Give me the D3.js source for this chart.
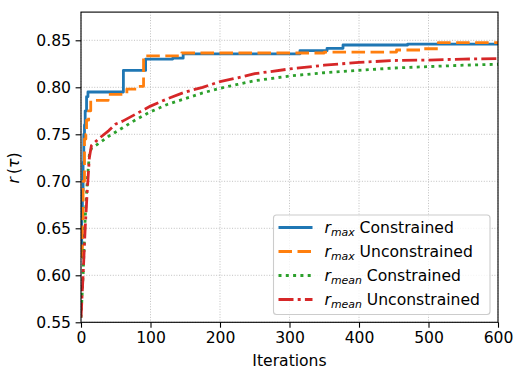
<!DOCTYPE html>
<html>
<head>
<meta charset="utf-8">
<script src="https://cdn.jsdelivr.net/npm/d3@7"></script>
<style>
  body { margin: 0; background: #fff; }
  text { font-family: "DejaVu Sans", sans-serif; }
</style>
</head>
<body>
<svg id="chart" width="515" height="369"></svg>
<script>
// Axis ticks
const xTicks = [0, 100, 200, 300, 400, 500, 600];
const yTicks = [0.55, 0.60, 0.65, 0.70, 0.75, 0.80, 0.85];

// r_max, constrained run (best value so far, changes only at these iterations)
const maxConIter = [0, 1, 2, 3, 4, 5, 6, 8, 10, 61, 93, 132, 147, 315, 354, 377, 470, 600];
const maxConR    = [0.630, 0.660, 0.690, 0.720, 0.750, 0.760, 0.775, 0.790, 0.795, 0.818, 0.830, 0.831, 0.8355, 0.839, 0.8415, 0.845, 0.846, 0.846];

// r_max, unconstrained run
const maxUncIter = [0, 2, 3, 5, 7, 8, 11, 14, 39, 66, 82, 90, 145, 350, 454, 488, 514, 600];
const maxUncR    = [0.620, 0.660, 0.700, 0.745, 0.750, 0.765, 0.775, 0.786, 0.7925, 0.798, 0.801, 0.8335, 0.8365, 0.8375, 0.8397, 0.841, 0.8475, 0.8475];

// r_mean, constrained run
const meanConIter = [0, 3, 6, 9, 12, 15, 25, 40, 60, 80, 100, 125, 150, 175, 200, 225, 250, 300, 350, 400, 450, 500, 550, 600];
const meanConR    = [0.555, 0.600, 0.660, 0.700, 0.728, 0.735, 0.740, 0.748, 0.757, 0.766, 0.774, 0.782, 0.788, 0.794, 0.799, 0.803, 0.807, 0.812, 0.8155, 0.818, 0.8205, 0.822, 0.8235, 0.8245];

// r_mean, unconstrained run
const meanUncIter = [0, 3, 6, 9, 12, 15, 25, 40, 50, 60, 80, 100, 125, 150, 175, 200, 225, 250, 300, 350, 400, 450, 500, 550, 600];
const meanUncR    = [0.555, 0.600, 0.650, 0.690, 0.725, 0.738, 0.745, 0.754, 0.761, 0.764, 0.772, 0.780, 0.788, 0.795, 0.800, 0.806, 0.810, 0.8145, 0.8195, 0.8235, 0.8265, 0.8285, 0.829, 0.830, 0.8305];

const series = [
  { sub: "max",  name: "Constrained",   iter: maxConIter,  r: maxConR,  color: "#1f77b4", dash: null,           curve: d3.curveStepAfter },
  { sub: "max",  name: "Unconstrained", iter: maxUncIter,  r: maxUncR,  color: "#ff7f0e", dash: "13.5,5.5",     curve: d3.curveStepAfter },
  { sub: "mean", name: "Constrained",   iter: meanConIter, r: meanConR, color: "#2ca02c", dash: "3,4.3",        curve: d3.curveLinear },
  { sub: "mean", name: "Unconstrained", iter: meanUncIter, r: meanUncR, color: "#d62728", dash: "15,4.2,3,4.2", curve: d3.curveLinear }
];

const FONT = "15.6px";
const svg = d3.select("#chart");
const plotL = 81, plotR = 498, plotT = 12.1, plotB = 322.3;

const x = d3.scaleLinear().domain([0, 600]).range([plotL, plotR]);
const y = d3.scaleLinear().domain([0.55, 0.88]).range([plotB, plotT]);

svg.append("defs").append("clipPath").attr("id", "plot-clip")
  .append("rect").attr("x", plotL).attr("y", plotT).attr("width", plotR - plotL).attr("height", plotB - plotT);

// grid
const grid = svg.append("g").attr("stroke", "#b0b0b0").attr("stroke-width", 0.8).attr("stroke-dasharray", "1,1.65");
grid.selectAll(".gx").data(xTicks).join("line")
  .attr("x1", d => x(d)).attr("x2", d => x(d)).attr("y1", plotT).attr("y2", plotB);
grid.selectAll(".gy").data(yTicks).join("line")
  .attr("x1", plotL).attr("x2", plotR).attr("y1", d => y(d)).attr("y2", d => y(d));

// series lines
const plot = svg.append("g").attr("clip-path", "url(#plot-clip)");
series.forEach(s => {
  const pts = s.iter.map((it, i) => [it, s.r[i]]);
  const line = d3.line().x(d => x(d[0])).y(d => y(d[1])).curve(s.curve);
  plot.append("path")
    .attr("d", line(pts))
    .attr("fill", "none")
    .attr("stroke", s.color)
    .attr("stroke-width", 2.8)
    .attr("stroke-dasharray", s.dash)
    .attr("stroke-linejoin", "round");
});

// axes
const xAxis = d3.axisBottom(x).tickValues(xTicks).tickSize(5.4).tickPadding(4.6).tickFormat(d3.format("d"));
const yAxis = d3.axisLeft(y).tickValues(yTicks).tickSize(5.4).tickPadding(4.6).tickFormat(d3.format(".2f"));

const gx = svg.append("g").attr("transform", `translate(0,${plotB})`).call(xAxis);
const gy = svg.append("g").attr("transform", `translate(${plotL},0)`).call(yAxis);
[gx, gy].forEach(g => {
  g.select(".domain").remove();
  g.selectAll(".tick line").attr("stroke", "#000").attr("stroke-width", 1.1);
  g.selectAll(".tick text").attr("fill", "#000").style("font-size", FONT).style("font-family", "DejaVu Sans");
});

// frame
svg.append("rect").attr("x", plotL).attr("y", plotT).attr("width", plotR - plotL).attr("height", plotB - plotT)
  .attr("fill", "none").attr("stroke", "#000").attr("stroke-width", 1.1);

// axis titles
svg.append("text").attr("x", (plotL + plotR) / 2).attr("y", 366).attr("text-anchor", "middle")
  .style("font-size", FONT).text("Iterations");

const yl = svg.append("text").attr("transform", "translate(19,168) rotate(-90)").attr("text-anchor", "middle")
  .style("font-size", FONT);
yl.append("tspan").style("font-style", "italic").text("r");
yl.append("tspan").text("\u2009(");
yl.append("tspan").style("font-style", "italic").text("\u03c4");
yl.append("tspan").text(")");

// legend
const lg = svg.append("g");
lg.append("rect").attr("x", 273.5).attr("y", 215).attr("width", 216.5).attr("height", 99.5).attr("rx", 3)
  .attr("fill", "#fff").attr("fill-opacity", 0.8).attr("stroke", "#cccccc").attr("stroke-width", 1.1);
series.forEach((s, i) => {
  const cy = 227.5 + i * 24;
  lg.append("line").attr("x1", 278.5).attr("x2", 312.5).attr("y1", cy).attr("y2", cy)
    .attr("stroke", s.color).attr("stroke-width", 2.8).attr("stroke-dasharray", s.dash);
  const t = lg.append("text").attr("x", 324.5).attr("y", cy + 5.5).style("font-size", FONT);
  t.append("tspan").style("font-style", "italic").text("r");
  t.append("tspan").style("font-style", "italic").style("font-size", "10.9px").attr("dy", 3.2).text(s.sub);
  t.append("tspan").attr("dy", -3.2).text("\u00a0" + s.name);
});
</script>
</body>
</html>
